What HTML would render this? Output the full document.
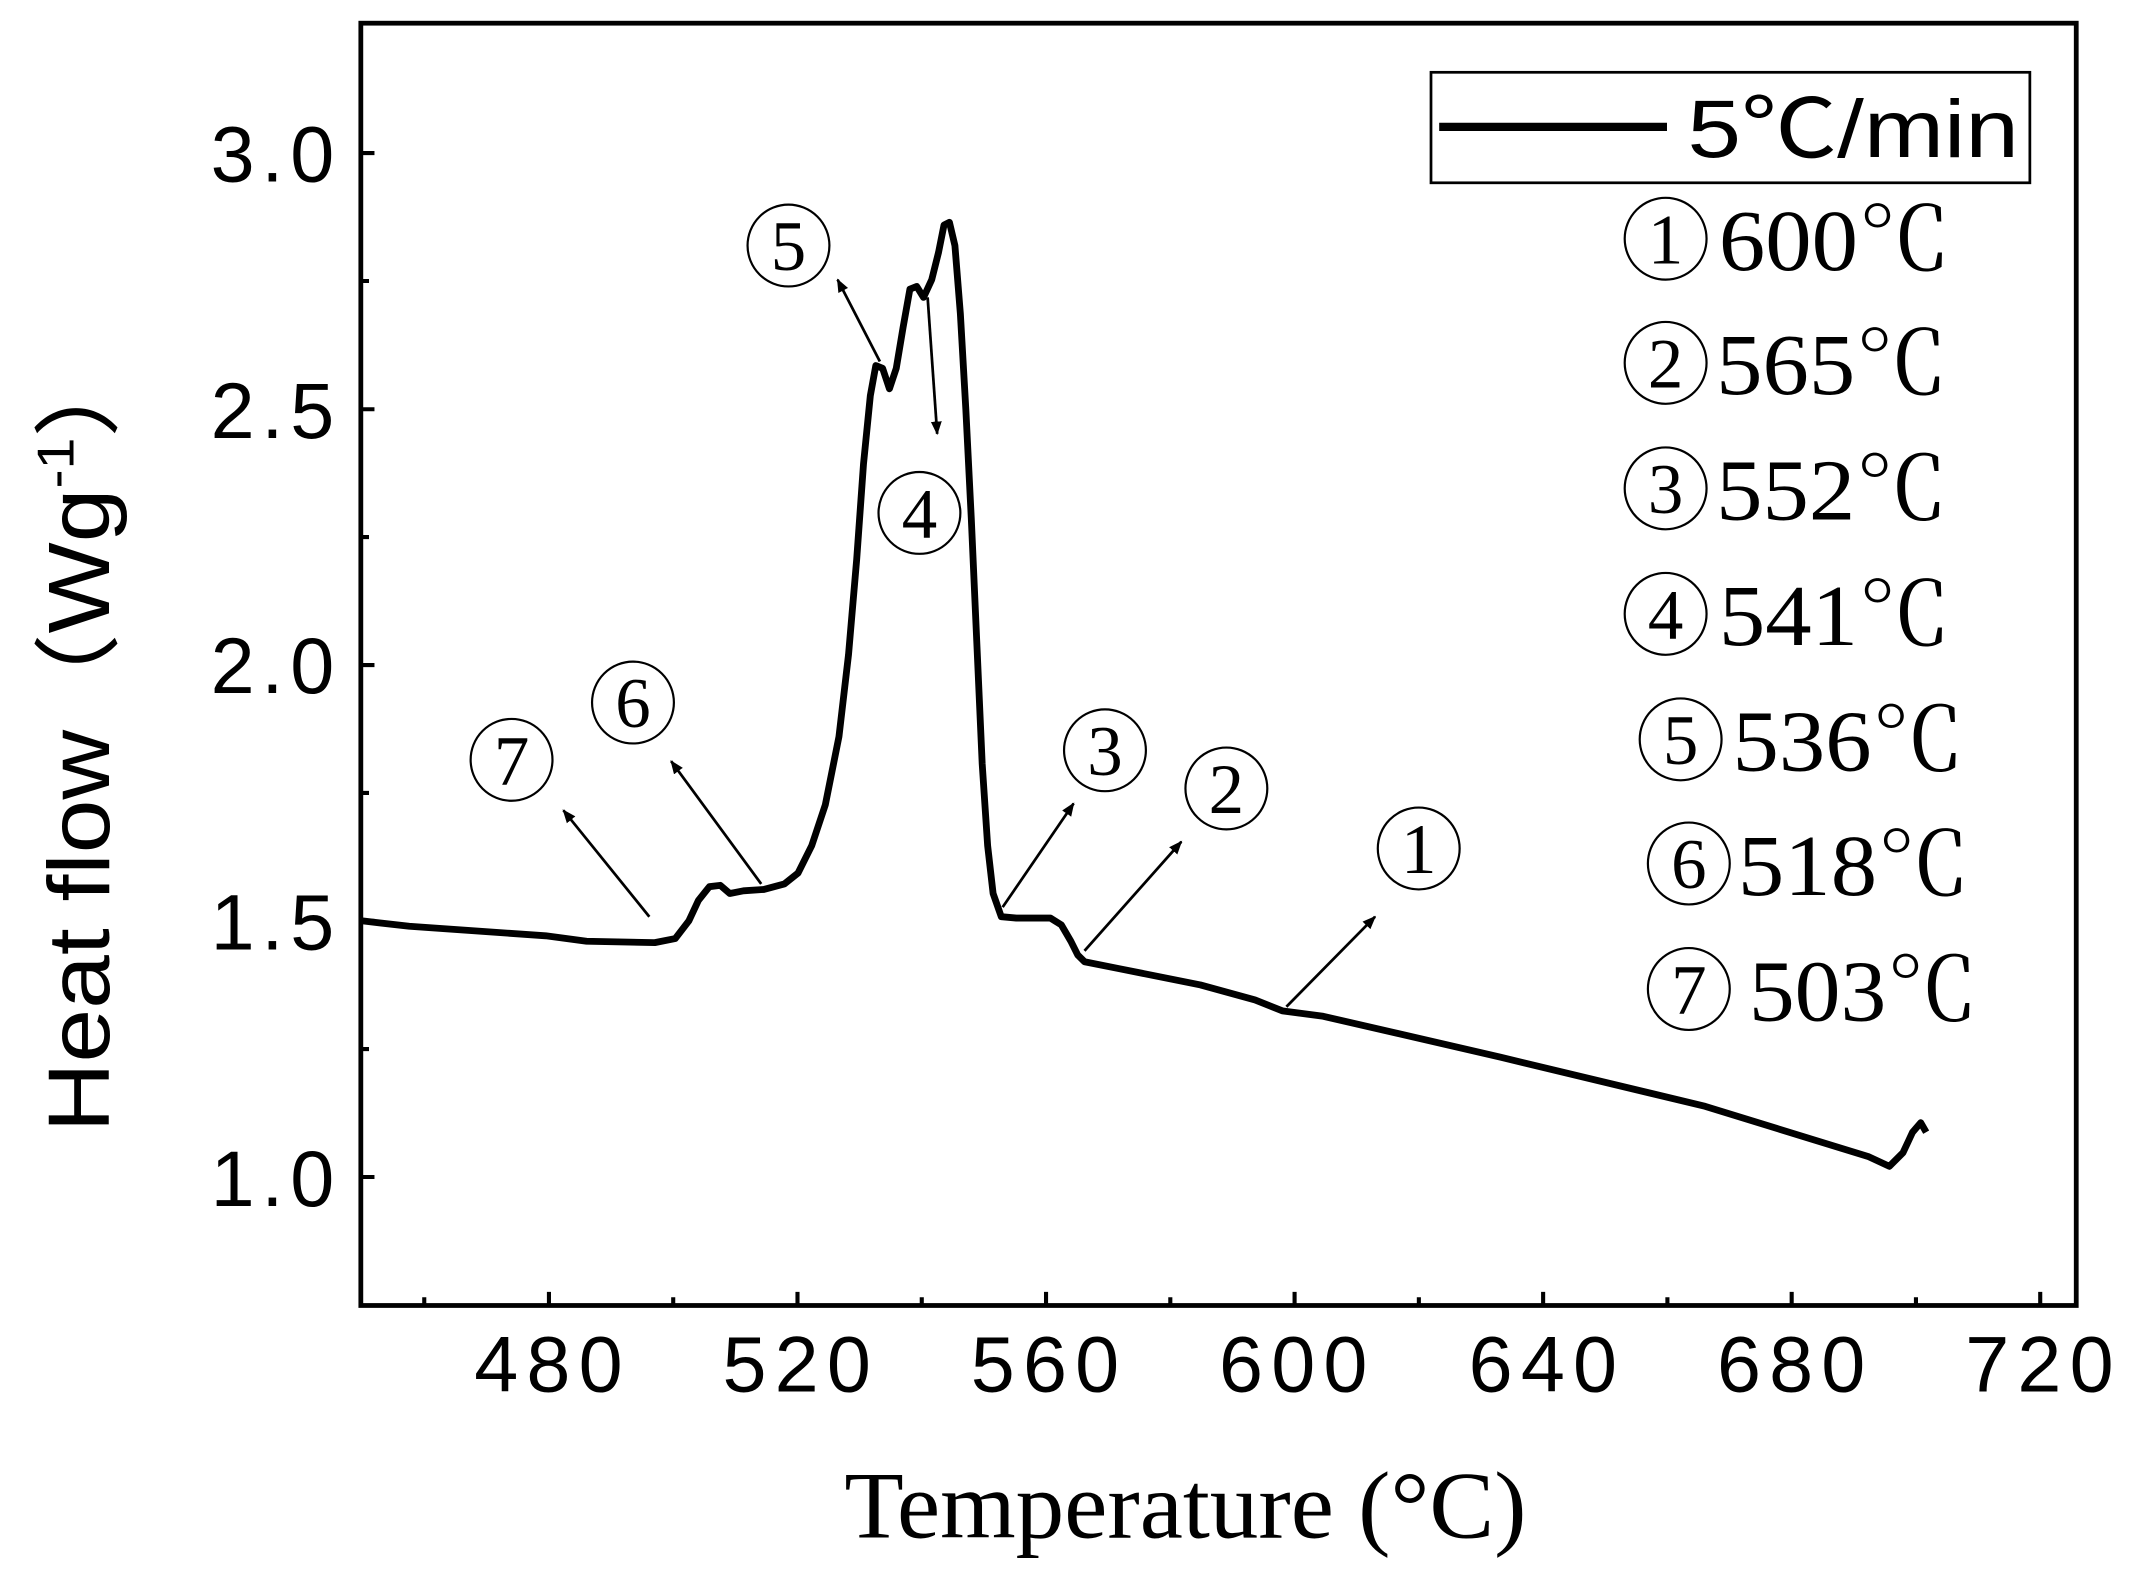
<!DOCTYPE html>
<html><head><meta charset="utf-8"><style>html,body{margin:0;padding:0;background:#fff}svg{display:block}</style></head>
<body>
<svg width="2139" height="1582" viewBox="0 0 1568 1159.7" xmlns="http://www.w3.org/2000/svg">
<defs><marker id="ah" markerWidth="10" markerHeight="10" refX="9" refY="5" orient="auto" markerUnits="userSpaceOnUse"><path d="M0,1 L10,5 L0,9 Z" fill="#000"/></marker></defs>
<rect x="264.5" y="17" width="1257.5" height="940" fill="none" stroke="#000" stroke-width="3.5"/>
<g stroke="#000" stroke-width="3">
<path d="M311,957v-6 M402.4,957v-10 M493.5,957v-6 M584.6,957v-10 M675.7,957v-6 M766.8,957v-10 M857.9,957v-6 M949,957v-10 M1040.1,957v-6 M1131.2,957v-10 M1222.3,957v-6 M1313.4,957v-10 M1404.5,957v-6 M1495.6,957v-10"/>
<path d="M264.5,112.2h10 M264.5,206h6 M264.5,300h10 M264.5,393.7h6 M264.5,487.5h10 M264.5,581.3h6 M264.5,675.1h10 M264.5,769h6 M264.5,862.8h10"/>
</g>
<g font-family="Liberation Sans, sans-serif" font-size="58" text-anchor="end" fill="#000" letter-spacing="5">
<text x="250" y="133">3.0</text><text x="250" y="321">2.5</text><text x="250" y="508">2.0</text><text x="250" y="696">1.5</text><text x="250" y="884">1.0</text>
</g>
<g font-family="Liberation Sans, sans-serif" font-size="58" text-anchor="middle" fill="#000" letter-spacing="6">
<text x="405" y="1020">480</text><text x="587" y="1020">520</text><text x="769" y="1020">560</text><text x="951" y="1020">600</text><text x="1134" y="1020">640</text><text x="1316" y="1020">680</text><text x="1498" y="1020">720</text>
</g>
<text x="869" y="1127" font-family="Liberation Serif, serif" font-size="70" text-anchor="middle" textLength="500" lengthAdjust="spacingAndGlyphs">Temperature (°C)</text>
<text transform="translate(80,540) rotate(-90)" font-family="Liberation Sans, 'Noto Sans CJK SC', sans-serif" font-size="64" text-anchor="middle" textLength="580" lengthAdjust="spacingAndGlyphs">Heat flow（Wg<tspan font-size="38" dy="-26">-1</tspan><tspan dy="26">）</tspan></text>
<polyline fill="none" stroke="#000" stroke-width="5" stroke-linejoin="round" points="265,675 300,679 400,686 430,690 480,691 495,688 505,675 512,660 520,650 528,649 535,655 545,653 560,652 575,648 585,640 595,620 605,590 615,540 622,480 628,410 633,340 638,290 642,268 647,270 652,285 657,270 662,240 667,212 672,210 677,218 683,205 688,185 692,165 696,163 700,180 704,230 708,300 712,380 716,470 720,560 724,620 728,655 734,672 745,673 770,673 778,678 785,690 790,700 795,705 820,710 880,722 920,733 940,741 970,745 1100,775 1250,811 1370,848 1385,855 1395,845 1402,830 1408,823 1412,830"/>
<g stroke="#000" stroke-width="2" marker-end="url(#ah)">
<line x1="476" y1="672" x2="413" y2="594"/>
<line x1="558" y1="648" x2="492" y2="558"/>
<line x1="645" y1="265" x2="614" y2="205"/>
<line x1="680" y1="218" x2="687" y2="318"/>
<line x1="735" y1="665" x2="787" y2="589"/>
<line x1="795" y1="697" x2="866" y2="617"/>
<line x1="943" y1="738" x2="1008" y2="672"/>
</g>
<g fill="none" stroke="#000" stroke-width="1.6">
<circle cx="375" cy="557" r="30"/><circle cx="464" cy="515" r="30"/><circle cx="578" cy="180" r="30"/><circle cx="674" cy="376" r="30"/><circle cx="810" cy="550" r="30"/><circle cx="899" cy="578" r="30"/><circle cx="1040" cy="622" r="30"/>
</g>
<g font-family="Liberation Serif, serif" font-size="52" text-anchor="middle">
<text x="375" y="575">7</text><text x="464" y="533">6</text><text x="578" y="198">5</text><text x="674" y="394">4</text><text x="810" y="568">3</text><text x="899" y="596">2</text><text x="1040" y="640">1</text>
</g>
<rect x="1049" y="53" width="439" height="81" fill="none" stroke="#000" stroke-width="2"/>
<line x1="1055" y1="93" x2="1222" y2="93" stroke="#000" stroke-width="6"/>
<text x="1237" y="115" font-family="Liberation Sans, 'Noto Sans CJK SC', sans-serif" font-size="60" textLength="243" lengthAdjust="spacingAndGlyphs">5℃/min</text>
<g fill="none" stroke="#000" stroke-width="1.6">
<circle cx="1221" cy="175" r="30"/><circle cx="1221" cy="266" r="30"/><circle cx="1221" cy="358" r="30"/><circle cx="1221" cy="450" r="30"/><circle cx="1232" cy="542" r="30"/><circle cx="1238" cy="633" r="30"/><circle cx="1238" cy="725" r="30"/>
</g>
<g font-family="Liberation Serif, serif" font-size="52" text-anchor="middle">
<text x="1221" y="193">1</text><text x="1221" y="284">2</text><text x="1221" y="376">3</text><text x="1221" y="468">4</text><text x="1232" y="560">5</text><text x="1238" y="651">6</text><text x="1238" y="743">7</text>
</g>
<g font-family="Liberation Serif, 'Noto Serif CJK SC', serif" font-size="64">
<text x="1260" y="198" textLength="170" lengthAdjust="spacingAndGlyphs">600℃</text><text x="1258" y="289" textLength="170" lengthAdjust="spacingAndGlyphs">565℃</text><text x="1258" y="381" textLength="170" lengthAdjust="spacingAndGlyphs">552℃</text><text x="1260" y="473" textLength="170" lengthAdjust="spacingAndGlyphs">541℃</text><text x="1270" y="565" textLength="170" lengthAdjust="spacingAndGlyphs">536℃</text><text x="1274" y="656" textLength="170" lengthAdjust="spacingAndGlyphs">518℃</text><text x="1282" y="748" textLength="168" lengthAdjust="spacingAndGlyphs">503℃</text>
</g>
</svg>
</body></html>
